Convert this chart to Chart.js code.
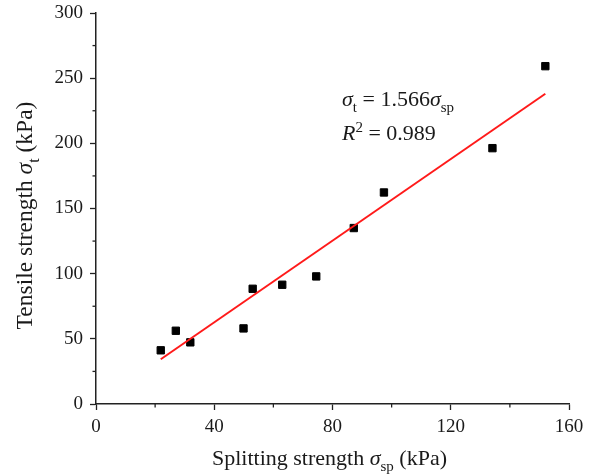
<!DOCTYPE html>
<html>
<head>
<meta charset="utf-8">
<script src="https://cdn.jsdelivr.net/npm/chart.js@4.4.1/dist/chart.umd.min.js"></script>
<style>
  html, body { margin: 0; padding: 0; background: #fff; }
  #wrap { width: 592px; height: 475px; position: relative; }
</style>
</head>
<body>
<div id="wrap"><canvas id="chart"></canvas></div>
<script>
// Measured pairs: splitting strength vs tensile strength (kPa)
const splitting = [21.9, 27.0, 31.9, 49.9, 53.0, 63.0, 74.5, 87.2, 97.4, 134.1, 152.0];
const tensile   = [41.2, 56.2, 47.3, 58.0, 88.4, 91.5, 97.9, 135.0, 162.3, 196.3, 259.2];

// Linear fit through the origin
const slope = 1.566;
const r2 = 0.989;

// Axis ranges and tick steps
const xRange = [0, 160];
const yRange = [0, 300];
const xStep = 40;
const yStep = 50;
const xMinor = [20, 60, 100, 140];
const yMinor = [25, 75, 125, 175, 225, 275];

const serif = "'Liberation Serif', 'Times New Roman', serif";
const ink = '#1a1a1a';
const axisColor = '#222';

const points = splitting.map((x, i) => ({ x, y: tensile[i] }));
const xLo = Math.min(...splitting), xHi = Math.max(...splitting);
const fitLine = [{ x: xLo, y: slope * xLo }, { x: xHi, y: slope * xHi }];

// draw a sequence of text runs (normal / italic / subscript / superscript)
function drawRuns(ctx, runs, x, y, size, align) {
    const fontFor = r => `${r.italic ? 'italic ' : ''}${(r.sub || r.sup) ? Math.round(size * 0.68) : size}px ${serif}`;
    let total = 0;
    runs.forEach(r => { ctx.font = fontFor(r); total += ctx.measureText(r.text).width; });
    let cx = align === 'center' ? x - total / 2 : x;
    runs.forEach(r => {
        ctx.font = fontFor(r);
        let dy = 0;
        if (r.sub) dy = size * 0.28;
        if (r.sup) dy = -size * 0.36;
        ctx.fillText(r.text, cx, y + dy);
        cx += ctx.measureText(r.text).width;
    });
}

const minorTicks = {
    id: 'minorTicks',
    afterDraw(chart) {
        const { ctx, chartArea, scales: { x, y } } = chart;
        ctx.save();
        ctx.strokeStyle = axisColor;
        ctx.lineWidth = 1.3;
        xMinor.forEach(v => {
            const px = x.getPixelForValue(v);
            ctx.beginPath();
            ctx.moveTo(px, chartArea.bottom);
            ctx.lineTo(px, chartArea.bottom + 3.5);
            ctx.stroke();
        });
        yMinor.forEach(v => {
            const py = y.getPixelForValue(v);
            ctx.beginPath();
            ctx.moveTo(chartArea.left, py);
            ctx.lineTo(chartArea.left - 3.5, py);
            ctx.stroke();
        });
        ctx.restore();
    }
};

const labels = {
    id: 'labels',
    afterDraw(chart) {
        const { ctx, chartArea, scales: { x, y } } = chart;
        ctx.save();
        ctx.fillStyle = ink;
        ctx.textBaseline = 'alphabetic';
        ctx.textAlign = 'left';

        // x axis title
        drawRuns(ctx, [
            { text: 'Splitting strength ' },
            { text: 'σ', italic: true },
            { text: 'sp', sub: true },
            { text: ' (kPa)' }
        ], (chartArea.left + chartArea.right) / 2 - 3, 465, 22, 'center');

        // y axis title
        ctx.save();
        ctx.translate(32, (chartArea.top + chartArea.bottom) / 2 + 7);
        ctx.rotate(-Math.PI / 2);
        drawRuns(ctx, [
            { text: 'Tensile strength ' },
            { text: 'σ', italic: true },
            { text: 't', sub: true },
            { text: ' (kPa)' }
        ], 0, 0, 23.5, 'center');
        ctx.restore();

        // fit equation
        const ax = x.getPixelForValue(83.2);
        const ay = y.getPixelForValue(229);
        drawRuns(ctx, [
            { text: 'σ', italic: true },
            { text: 't', sub: true },
            { text: ' = ' + slope.toFixed(3) },
            { text: 'σ', italic: true },
            { text: 'sp', sub: true }
        ], ax, ay, 22, 'left');
        drawRuns(ctx, [
            { text: 'R', italic: true },
            { text: '2', sup: true },
            { text: ' = ' + r2.toFixed(3) }
        ], ax, ay + 34, 22, 'left');
        ctx.restore();
    }
};

new Chart(document.getElementById('chart'), {
    type: 'scatter',
    data: {
        datasets: [
            {
                type: 'line',
                data: fitLine,
                borderColor: '#ff1a1a',
                borderWidth: 2,
                pointRadius: 0,
                fill: false
            },
            {
                data: points,
                pointStyle: 'rect',
                pointRadius: 5.2,
                backgroundColor: '#000',
                borderColor: '#000',
                borderWidth: 1
            }
        ]
    },
    options: {
        responsive: true,
        maintainAspectRatio: false,
        animation: false,
        layout: { padding: { top: 13, right: 23, left: 0, bottom: 0 } },
        plugins: {
            legend: { display: false },
            tooltip: { enabled: false }
        },
        scales: {
            x: {
                type: 'linear',
                min: xRange[0],
                max: xRange[1],
                afterFit: s => { s.height = 71; },
                ticks: { stepSize: xStep, padding: 6, color: ink, font: { family: serif, size: 19 } },
                grid: { drawOnChartArea: false, drawTicks: true, tickLength: 6, tickColor: axisColor, tickWidth: 1.3 },
                border: { color: axisColor, width: 1.5 }
            },
            y: {
                type: 'linear',
                min: yRange[0],
                max: yRange[1],
                afterFit: s => { s.width = 96; s.paddingTop = 0; },
                ticks: { stepSize: yStep, padding: 7, color: ink, font: { family: serif, size: 19 } },
                grid: { drawOnChartArea: false, drawTicks: true, tickLength: 6, tickColor: axisColor, tickWidth: 1.3 },
                border: { color: axisColor, width: 1.5 }
            }
        }
    },
    plugins: [minorTicks, labels]
});
</script>
</body>
</html>
